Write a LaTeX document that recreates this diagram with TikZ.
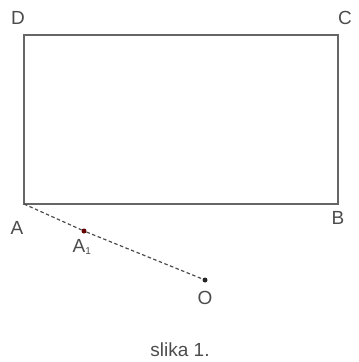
\documentclass[tikz,border=0pt]{standalone}
\usepackage{fontspec}
\setmainfont{Liberation Sans}
\begin{document}
\begin{tikzpicture}[x=1pt,y=-1pt,
  lbl/.style={text=black!70, font=\fontsize{19}{21}\selectfont, inner sep=0pt},
  edge/.style={draw=black!60, line width=1.8pt},
  dashline/.style={draw=black!70, line width=1.2pt, dash pattern=on 3.5pt off 2.5pt},
  dot/.style={circle, fill=black!85, inner sep=0pt, minimum size=5pt}]
\useasboundingbox (0,0) rectangle (359,362);
\coordinate (A) at (24,204);
\coordinate (B) at (338,204);
\coordinate (C) at (338,35);
\coordinate (D) at (24,35);
\node[dot, fill=black!60!red] (A1) at (84,231) {};
\node[dot] (O) at (205,280) {};
\draw[edge] (A) -- (B) -- (C) -- (D) -- cycle;
\draw[dashline] (A) -- (A1) -- (O);
\node[lbl] (lD) at (18,18) {D};
\node[lbl] (lC) at (345,18) {C};
\node[lbl] (lA) at (17,228) {A};
\node[lbl] (lB) at (338,218) {B};
\node[lbl] (lA1) at (82,247) {A\textsubscript{\fontsize{10}{11}\selectfont 1}};
\node[lbl] (lO) at (205,298) {O};
\node[lbl] (cap) at (180,350) {slika 1.};
\end{tikzpicture}
\end{document}
